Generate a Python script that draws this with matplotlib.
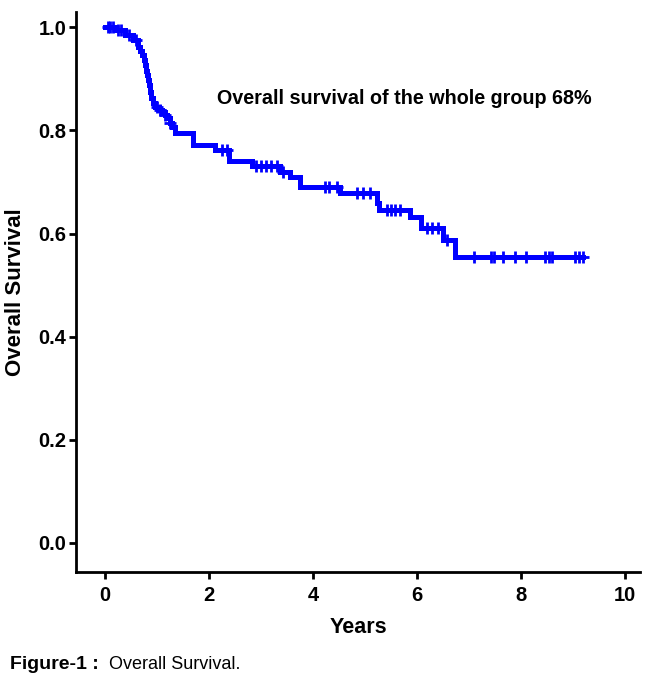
import numpy as np
import matplotlib
matplotlib.use("Agg")
import matplotlib.pyplot as plt

# Kaplan-Meier steps (years, survival after the step)
event_years = [0, 0.19, 0.38, 0.54, 0.63, 0.67, 0.71, 0.74, 0.77, 0.79, 0.81, 0.83, 0.85,
               0.865, 0.88, 0.92, 0.96, 1.03, 1.10, 1.15, 1.19, 1.24, 1.29, 1.35, 1.69,
               2.12, 2.38, 2.83, 3.37, 3.56, 3.75, 4.52, 5.23, 5.28, 5.87, 6.08, 6.50,
               6.73, 9.20]
survival = [1.0, 0.994, 0.984, 0.975, 0.961, 0.953, 0.946, 0.936, 0.926, 0.916, 0.907, 0.897,
            0.888, 0.875, 0.862, 0.853, 0.845, 0.840, 0.835, 0.830, 0.824, 0.815, 0.806,
            0.795, 0.771, 0.762, 0.740, 0.730, 0.720, 0.710, 0.690, 0.678, 0.660, 0.645,
            0.632, 0.610, 0.587, 0.554, 0.554]

# censored observations
censored_years = [0.05, 0.10, 0.15, 0.25, 0.30, 0.45, 0.60, 1.00, 1.05, 1.15, 1.25, 2.25, 2.34,
                  2.90, 3.00, 3.10, 3.20, 3.30, 3.42, 4.23, 4.30, 4.46, 4.85, 4.96, 5.10,
                  5.42, 5.50, 5.58, 5.67, 6.20, 6.30, 6.40, 6.58, 7.10, 7.42, 7.49, 7.65,
                  7.89, 8.10, 8.46, 8.54, 8.60, 9.04, 9.12, 9.19]

x_ticks = [0, 2, 4, 6, 8, 10]
y_ticks = [0.0, 0.2, 0.4, 0.6, 0.8, 1.0]

plt.rcParams['font.family'] = ['Liberation Sans', 'DejaVu Sans']

fig = plt.figure(figsize=(6.5, 6.89), dpi=100)
ax = fig.add_axes([0.117, 0.170, 0.868, 0.813])

blue = '#0000ff'
ax.step(event_years, survival, where='post', color=blue, lw=3.6, solid_joinstyle='miter')

idx = np.searchsorted(event_years, censored_years, side='right') - 1
cens_surv = np.array(survival)[idx]
ax.plot(censored_years, cens_surv, ls='none', marker='+', color=blue, ms=9, mew=2)

ax.set_xlim(-0.56, 10.3)
ax.set_ylim(-0.056, 1.03)
ax.set_xticks(x_ticks)
ax.set_xticklabels([str(v) for v in x_ticks])
ax.set_yticks(y_ticks)
ax.set_yticklabels(['%.1f' % v for v in y_ticks])

for s in ['top', 'right']:
    ax.spines[s].set_visible(False)
for s in ['left', 'bottom']:
    ax.spines[s].set_linewidth(2)

ax.tick_params(axis='both', width=2, length=5, labelsize=14.5)
ax.tick_params(axis='x', pad=5)
ax.tick_params(axis='y', pad=2)
for lab in ax.get_xticklabels() + ax.get_yticklabels():
    lab.set_fontweight('bold')

ax.set_xlabel('Years', fontsize=15.5, fontweight='bold', labelpad=9)
ax.set_ylabel('Overall Survival', fontsize=16, fontweight='bold', labelpad=9)

ax.text(2.15, 0.862, 'Overall survival of the whole group 68%', fontsize=14.2,
        fontweight='bold', va='center', ha='left')

fig.text(0.015, 0.035, 'Figure-1 :', fontsize=14, fontweight='bold', va='center', ha='left')
fig.text(0.168, 0.035, 'Overall Survival.', fontsize=13, va='center', ha='left')

fig.savefig('out.png', dpi=100, facecolor='white')
